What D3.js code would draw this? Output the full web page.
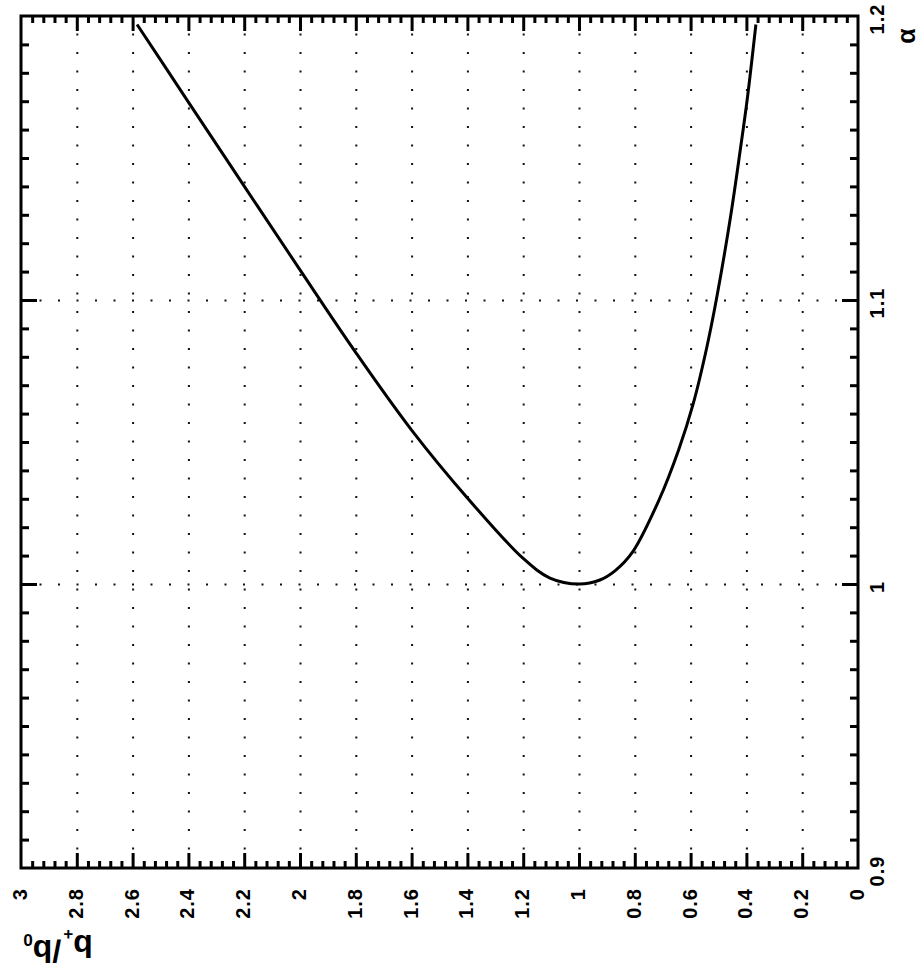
<!DOCTYPE html>
<html>
<head>
<meta charset="utf-8">
<script src="https://cdn.jsdelivr.net/npm/d3@7"></script>
<style>
  body { margin: 0; background: #fff; }
  svg text { font-family: "Liberation Sans", Arial, sans-serif; fill: #000; }
  .grid line { stroke: #111; stroke-width: 2; stroke-dasharray: 2, 16.5; }
  .ticks line { stroke: #000; stroke-width: 3; }
</style>
</head>
<body>
<div id="chart"></div>
<script>
// curve: alpha as a function of b+/b0
const ratioValues = [2.584, 2.4, 2.2, 2.0, 1.8, 1.6, 1.4, 1.2, 1.104, 1.0, 0.925, 0.87,
    0.809, 0.714, 0.643, 0.59, 0.544, 0.508, 0.457, 0.422, 0.396, 0.366];
const alphaValues = [1.197, 1.1697, 1.1401, 1.1106, 1.0815, 1.0542, 1.0303, 1.0090, 1.0021, 1.0, 1.0014, 1.0047,
    1.0111, 1.0294, 1.0472, 1.0637, 1.0824, 1.1, 1.1292, 1.1528, 1.1715, 1.197];

const ratioTicks = [3, 2.8, 2.6, 2.4, 2.2, 2, 1.8, 1.6, 1.4, 1.2, 1, 0.8, 0.6, 0.4, 0.2, 0];
const ratioTickLabels = ["3", "2.8", "2.6", "2.4", "2.2", "2", "1.8", "1.6", "1.4", "1.2", "1", "0.8", "0.6", "0.4", "0.2", "0"];
const alphaTicks = [0.9, 1, 1.1, 1.2];
const alphaTickLabels = ["0.9", "1", "1.1", "1.2"];

const W = 923, H = 972;
const frame = {left: 21, right: 858, top: 16, bottom: 868};

const svg = d3.select("#chart").append("svg")
    .attr("width", W).attr("height", H);

const x = d3.scaleLinear().domain([3, 0]).range([frame.left, frame.right]);
const y = d3.scaleLinear().domain([0.9, 1.2]).range([frame.bottom, frame.top]);

// minor tick positions
const ratioMinor = d3.range(0, 76).filter(i => i % 5 !== 0).map(i => i * 0.04);
const alphaMinor = d3.range(90, 121).filter(i => i % 10 !== 0).map(i => i / 100);
const innerRatio = ratioTicks.filter(d => d > 0 && d < 3);
const innerAlpha = alphaTicks.filter(d => d > 0.9 && d < 1.2);

// dotted grid
svg.append("g").attr("class", "grid")
    .attr("transform", `translate(0,${frame.bottom})`)
    .call(d3.axisBottom(x).tickValues(innerRatio).tickSize(-(frame.bottom - frame.top)).tickFormat(""))
    .call(g => g.select(".domain").remove());

svg.append("g").attr("class", "grid")
    .attr("transform", `translate(${frame.left},0)`)
    .call(d3.axisLeft(y).tickValues(innerAlpha).tickSize(-(frame.right - frame.left)).tickFormat(""))
    .call(g => g.select(".domain").remove());

// tick marks on all four sides, pointing inward
function ticks(axis, tx, ty, values, size) {
    svg.append("g").attr("class", "ticks")
        .attr("transform", `translate(${tx},${ty})`)
        .call(axis.tickValues(values).tickSize(-size).tickFormat(""))
        .call(g => g.select(".domain").remove());
}
ticks(d3.axisBottom(x), 0, frame.bottom, innerRatio, 15);
ticks(d3.axisBottom(x), 0, frame.bottom, ratioMinor, 7);
ticks(d3.axisTop(x), 0, frame.top, innerRatio, 15);
ticks(d3.axisTop(x), 0, frame.top, ratioMinor, 7);
ticks(d3.axisLeft(y), frame.left, 0, innerAlpha, 16);
ticks(d3.axisLeft(y), frame.left, 0, alphaMinor, 8);
ticks(d3.axisRight(y), frame.right, 0, innerAlpha, 16);
ticks(d3.axisRight(y), frame.right, 0, alphaMinor, 8);

// frame
svg.append("rect")
    .attr("x", frame.left).attr("y", frame.top)
    .attr("width", frame.right - frame.left).attr("height", frame.bottom - frame.top)
    .attr("fill", "none").attr("stroke", "#000").attr("stroke-width", 3);

// curve
const pts = ratioValues.map((b, i) => ({b: b, a: alphaValues[i]}));
svg.append("path")
    .datum(pts)
    .attr("fill", "none")
    .attr("stroke", "#000")
    .attr("stroke-width", 3)
    .attr("stroke-linejoin", "round")
    .attr("d", d3.line().x(d => x(d.b)).y(d => y(d.a)).curve(d3.curveCatmullRom.alpha(0.5)));

// bottom tick labels, rotated
svg.append("g").selectAll("text")
    .data(ratioTicks).enter().append("text")
    .attr("transform", d => `translate(${x(d) - 1},888) rotate(-90)`)
    .attr("text-anchor", "end")
    .attr("dy", "0.35em")
    .style("font-size", "20px")
    .style("font-weight", "bold")
    .style("letter-spacing", "1px")
    .text((d, i) => ratioTickLabels[i]);

// right tick labels, rotated
svg.append("g").selectAll("text")
    .data(alphaTicks).enter().append("text")
    .attr("transform", d => `translate(877,${y(d) + 3}) rotate(-90)`)
    .attr("text-anchor", "middle")
    .attr("dy", "0.35em")
    .style("font-size", "20px")
    .style("font-weight", "bold")
    .style("letter-spacing", "1px")
    .text((d, i) => alphaTickLabels[i]);

// axis titles
svg.append("text")
    .attr("transform", "translate(906,36) rotate(-90)")
    .attr("text-anchor", "middle")
    .attr("dy", "0.35em")
    .style("font-size", "25px")
    .style("font-weight", "bold")
    .text("α");

const title = svg.append("text")
    .attr("transform", "translate(58,935) rotate(180)")
    .attr("text-anchor", "middle")
    .style("font-size", "32px")
    .style("font-weight", "bold");
title.append("tspan").text("b");
title.append("tspan").attr("dy", "0.35em").style("font-size", "17px").text("+");
title.append("tspan").attr("dy", "-0.35em").attr("dx", "2").text("/b");
title.append("tspan").attr("dy", "0.35em").style("font-size", "17px").text("0");
</script>
</body>
</html>
